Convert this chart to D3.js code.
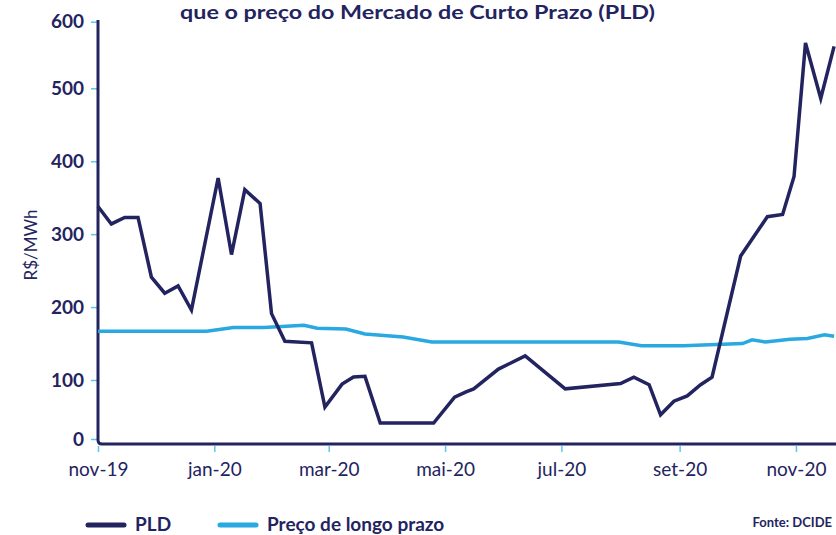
<!DOCTYPE html>
<html>
<head>
<meta charset="utf-8">
<script src="https://cdn.jsdelivr.net/npm/d3@7"></script>
<style>
  body { margin: 0; background: #fff; }
  svg { display: block; font-family: Lato, "Noto Sans", sans-serif; }
</style>
</head>
<body>
<div id="chart"></div>
<script>
// Data
const pldDates = ['2019-11-01','2019-11-08','2019-11-15','2019-11-22','2019-11-29','2019-12-06','2019-12-13','2019-12-20',
    '2020-01-03','2020-01-10','2020-01-17','2020-01-25','2020-01-31','2020-02-07','2020-02-21','2020-02-28',
    '2020-03-08','2020-03-14','2020-03-20','2020-03-28','2020-04-25','2020-05-06','2020-05-12','2020-05-16',
    '2020-05-29','2020-06-12','2020-07-03','2020-08-01','2020-08-08','2020-08-16','2020-08-22','2020-08-29',
    '2020-09-05','2020-09-12','2020-09-18','2020-10-03','2020-10-17','2020-10-25','2020-10-31','2020-11-06',
    '2020-11-14','2020-11-21'];
const pldValues = [338, 314, 323, 323, 241, 219, 229, 196,
    377, 272, 361, 342, 191, 153, 151, 54,
    93, 104, 105, 27, 27, 71, 80, 85,
    115, 133, 85, 94, 104, 92, 41, 64,
    73, 92, 104, 270, 324, 327, 379, 568,
    486, 563];

const longoDates = ['2019-11-01','2019-12-28','2020-01-11','2020-01-27','2020-02-17','2020-02-24','2020-03-10','2020-03-20',
    '2020-04-09','2020-04-24','2020-07-31','2020-08-12','2020-09-03','2020-10-04','2020-10-09','2020-10-16',
    '2020-10-29','2020-11-07','2020-11-16','2020-11-21'];
const longoValues = [167, 167, 172, 172, 175, 171, 170, 163,
    159, 152, 152, 147, 147, 150, 155, 152,
    156, 157, 162, 160];

const yTicks = [0, 100, 200, 300, 400, 500, 600];
const xTickDates = ['2019-11-01','2020-01-01','2020-03-01','2020-05-01','2020-07-01','2020-09-01','2020-11-01'];
const xTickLabels = ['nov-19','jan-20','mar-20','mai-20','jul-20','set-20','nov-20'];

const navy = '#23245f';
const blue = '#2aa8e0';
const tickBlue = '#5cc6f2';

const width = 836;
const height = 535;
const parse = d3.utcParse('%Y-%m-%d');

const svg = d3.select('#chart')
    .append('svg')
    .attr('width', width)
    .attr('height', height);

const xScale = d3.scaleUtc()
    .domain([parse('2019-11-01'), parse('2020-11-22')])
    .range([98, 836]);

// the printed axis is squeezed near its ends, so use a piecewise scale
const yScale = d3.scaleLinear()
    .domain([0, 100, 500, 600])
    .range([439, 380, 88.3, 21.7]);

// title (only its lower line shows in the original)
svg.append('text')
    .text('que o preço do Mercado de Curto Prazo (PLD)')
    .attr('x', 180)
    .attr('y', 19)
    .attr('textLength', 475)
    .attr('lengthAdjust', 'spacingAndGlyphs')
    .attr('fill', navy)
    .style('font-size', '18px')
    .style('font-weight', 700);

// y axis
const yAxis = svg.append('g')
    .attr('transform', 'translate(97,0)')
    .call(d3.axisLeft(yScale).tickValues(yTicks).tickSize(6).tickPadding(7));
yAxis.select('.domain').remove();
yAxis.selectAll('.tick line').attr('stroke', tickBlue).attr('stroke-width', 1.5);
yAxis.selectAll('.tick text')
    .attr('fill', navy)
    .style('font-size', '19px')
    .style('font-weight', 700)
    .style('font-family', '"Liberation Sans Narrow", Lato, sans-serif');

// x axis
const xAxis = svg.append('g')
    .attr('transform', 'translate(0,446)')
    .call(d3.axisBottom(xScale)
        .tickValues(xTickDates.map(parse))
        .tickFormat((d, i) => xTickLabels[i])
        .tickSize(6)
        .tickPadding(11));
xAxis.select('.domain').remove();
xAxis.selectAll('.tick line').attr('stroke', tickBlue).attr('stroke-width', 1.5);
xAxis.selectAll('.tick text')
    .attr('fill', navy)
    .style('font-size', '19px')
    .style('font-family', 'Lato, sans-serif');

// axis frame with rounded corner
svg.append('path')
    .attr('d', 'M98,20 V440 Q98,444 102,444 H836')
    .attr('fill', 'none')
    .attr('stroke', navy)
    .attr('stroke-width', 3);

svg.append('text')
    .text('R$/MWh')
    .attr('transform', 'translate(30,245) rotate(-90)')
    .attr('text-anchor', 'middle')
    .attr('dominant-baseline', 'central')
    .attr('fill', navy)
    .style('font-size', '17px');

// lines
const line = d3.line()
    .x(d => xScale(d.date))
    .y(d => yScale(d.value));

const longoData = longoDates.map((d, i) => ({ date: parse(d), value: longoValues[i] }));
const pldData = pldDates.map((d, i) => ({ date: parse(d), value: pldValues[i] }));

svg.append('path')
    .datum(longoData)
    .attr('d', line)
    .attr('fill', 'none')
    .attr('stroke', blue)
    .attr('stroke-width', 3.5);

svg.append('path')
    .datum(pldData)
    .attr('d', line)
    .attr('fill', 'none')
    .attr('stroke', navy)
    .attr('stroke-width', 3.5);

// legend
const legendItems = [
    { label: 'PLD', color: navy, x: 88 },
    { label: 'Preço de longo prazo', color: blue, x: 220 }
];
const legend = svg.append('g');
legend.selectAll('line')
    .data(legendItems)
    .join('line')
        .attr('x1', d => d.x)
        .attr('x2', d => d.x + 36)
        .attr('y1', 525)
        .attr('y2', 525)
        .attr('stroke', d => d.color)
        .attr('stroke-width', 5)
        .attr('stroke-linecap', 'round');
legend.selectAll('text')
    .data(legendItems)
    .join('text')
        .text(d => d.label)
        .attr('x', d => d.x + 47)
        .attr('y', 531)
        .attr('fill', navy)
        .style('font-size', '19px')
        .style('font-weight', 700);

svg.append('text')
    .text('Fonte: DCIDE')
    .attr('x', 832)
    .attr('y', 527)
    .attr('text-anchor', 'end')
    .attr('fill', navy)
    .style('font-size', '13px')
    .style('font-weight', 700);
</script>
</body>
</html>
